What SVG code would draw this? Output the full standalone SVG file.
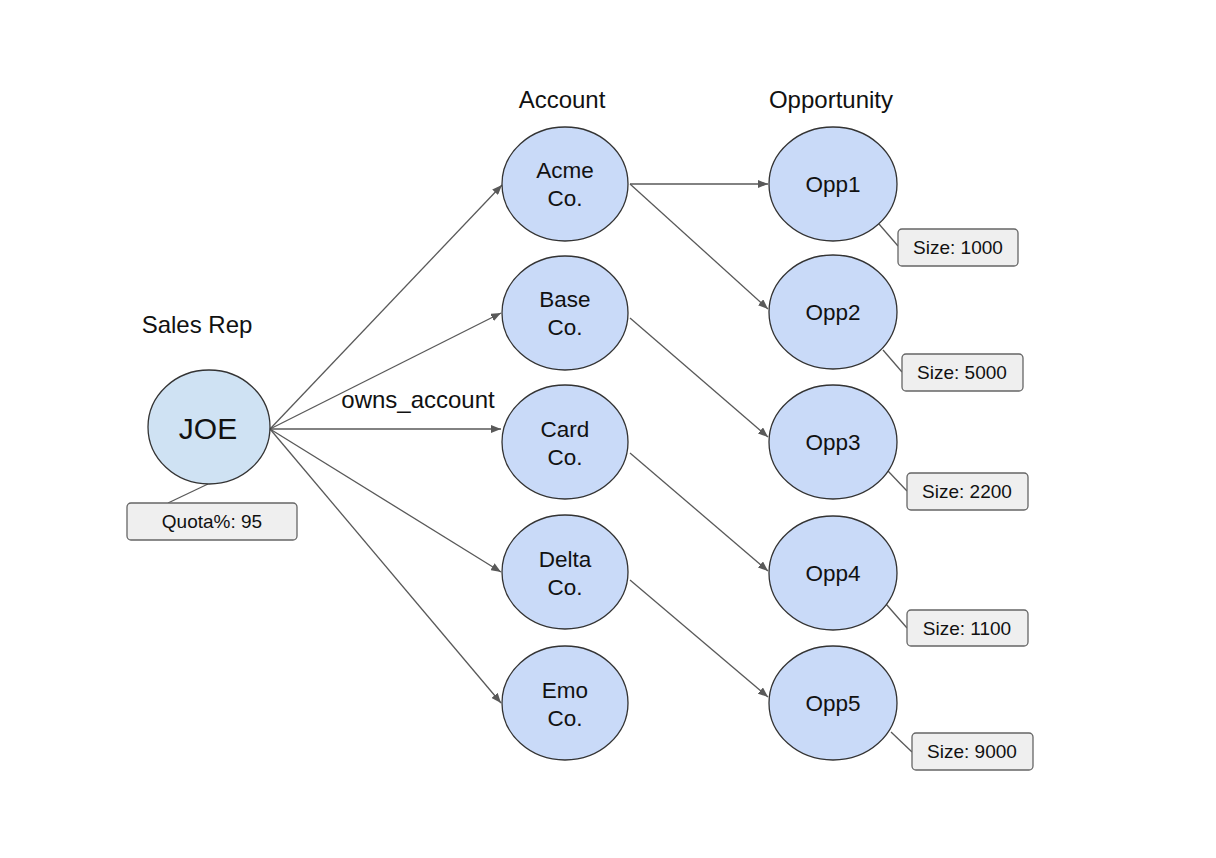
<svg xmlns="http://www.w3.org/2000/svg" width="1216" height="858" viewBox="0 0 1216 858">
<style>
text{font-family:"Liberation Sans",Arial,sans-serif;fill:#111;text-anchor:middle}
.n{fill:#c9daf8;stroke:#333;stroke-width:1.3}
.j{fill:#cfe2f3;stroke:#333;stroke-width:1.3}
.b{fill:#efefef;stroke:#666;stroke-width:1.3}
.t{font-size:22.5px}
.s{font-size:19px}
.h{font-size:24px}
.c line{stroke:#595959;stroke-width:1.3;marker-end:url(#a)}
.p{stroke:#595959;stroke-width:1.3}
</style>
<defs>
<marker id="a" markerWidth="10" markerHeight="8" refX="10" refY="4" orient="auto" markerUnits="userSpaceOnUse">
<path d="M0,0 L10,4 L0,8 z" fill="#595959"/>
</marker>
</defs>
<rect width="1216" height="858" fill="#fff"/>
<text class="h" x="197" y="333">Sales Rep</text>
<text class="h" x="562" y="108">Account</text>
<text class="h" x="831" y="108">Opportunity</text>
<g class="c" id="connectors">
<line x1="270" y1="429" x2="502" y2="185"/>
<line x1="270" y1="429" x2="501" y2="313"/>
<line x1="270" y1="429" x2="501" y2="429"/>
<line x1="270" y1="429" x2="501" y2="572"/>
<line x1="270" y1="429" x2="501" y2="703"/>
<line x1="630" y1="184" x2="768" y2="184"/>
<line x1="630" y1="184" x2="768" y2="309"/>
<line x1="630" y1="318" x2="768" y2="437"/>
<line x1="630" y1="453" x2="768" y2="571"/>
<line x1="630" y1="580" x2="768" y2="697"/>
</g>
<text class="h" x="418" y="408">owns_account</text>
<g id="joe">
<line class="p" x1="208" y1="484" x2="168" y2="503"/>
<ellipse class="j" cx="209" cy="427" rx="61" ry="57"/>
<text x="208" y="439" style="font-size:30px">JOE</text>
<rect class="b" x="127" y="503" width="170" height="37" rx="4"/>
<text class="s" x="212" y="528">Quota%: 95</text>
</g>
<g id="acme"><ellipse class="n" cx="565" cy="184" rx="63" ry="57"/><text class="t" x="565" y="178">Acme</text><text class="t" x="565" y="206">Co.</text></g>
<g id="base"><ellipse class="n" cx="565" cy="313" rx="63" ry="57"/><text class="t" x="565" y="307">Base</text><text class="t" x="565" y="335">Co.</text></g>
<g id="card"><ellipse class="n" cx="565" cy="442" rx="63" ry="57"/><text class="t" x="565" y="437">Card</text><text class="t" x="565" y="465">Co.</text></g>
<g id="delta"><ellipse class="n" cx="565" cy="572" rx="63" ry="57"/><text class="t" x="565" y="567">Delta</text><text class="t" x="565" y="595">Co.</text></g>
<g id="emo"><ellipse class="n" cx="565" cy="703" rx="63" ry="57"/><text class="t" x="565" y="698">Emo</text><text class="t" x="565" y="726">Co.</text></g>
<g id="opp1"><line class="p" x1="879" y1="224" x2="898" y2="246"/><ellipse class="n" cx="833" cy="184" rx="64" ry="57"/><text class="t" x="833" y="192">Opp1</text><rect class="b" x="898" y="229" width="120" height="37" rx="4"/><text class="s" x="958" y="254">Size: 1000</text></g>
<g id="opp2"><line class="p" x1="883" y1="350" x2="902" y2="372"/><ellipse class="n" cx="833" cy="312" rx="64" ry="57"/><text class="t" x="833" y="320">Opp2</text><rect class="b" x="902" y="354" width="121" height="37" rx="4"/><text class="s" x="962" y="379">Size: 5000</text></g>
<g id="opp3"><line class="p" x1="888" y1="471" x2="907" y2="491"/><ellipse class="n" cx="833" cy="442" rx="64" ry="57"/><text class="t" x="833" y="450">Opp3</text><rect class="b" x="907" y="473" width="121" height="37" rx="4"/><text class="s" x="967" y="498">Size: 2200</text></g>
<g id="opp4"><line class="p" x1="886" y1="604" x2="907" y2="628"/><ellipse class="n" cx="833" cy="573" rx="64" ry="57"/><text class="t" x="833" y="581">Opp4</text><rect class="b" x="907" y="610" width="121" height="36" rx="4"/><text class="s" x="967" y="635">Size: 1100</text></g>
<g id="opp5"><line class="p" x1="891" y1="732" x2="912" y2="752"/><ellipse class="n" cx="833" cy="703" rx="64" ry="57"/><text class="t" x="833" y="711">Opp5</text><rect class="b" x="912" y="733" width="121" height="37" rx="4"/><text class="s" x="972" y="758">Size: 9000</text></g>
</svg>
